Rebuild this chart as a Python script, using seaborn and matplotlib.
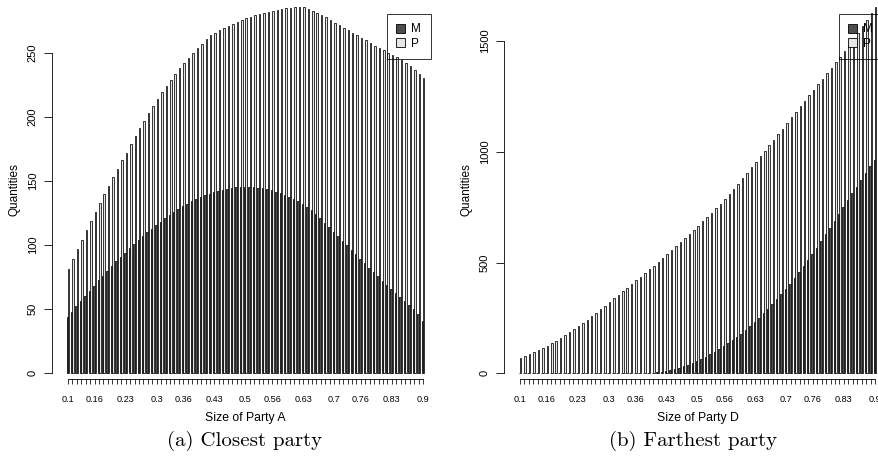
import numpy as np
import pandas as pd
import matplotlib
matplotlib.use("Agg")
import matplotlib.pyplot as plt
import seaborn as sns
from matplotlib.patches import Patch

# ---------------- data ----------------
party_sizes = [f"{v:g}" for v in np.round(np.linspace(0.10, 0.90, 81), 2)]
shown_labels = ["0.1", "0.16", "0.23", "0.3", "0.36", "0.43", "0.5",
                "0.56", "0.63", "0.7", "0.76", "0.83", "0.9"]
series_names = ["M", "P"]

closest_M = [44.2, 48.0, 52.5, 56.4, 60.0, 64.2, 68.0, 72.5, 76.0, 79.8,
             83.7, 87.2, 90.7, 94.1, 97.5, 100.8, 104.0, 107.0, 110.0, 112.8,
             115.5, 118.2, 120.8, 123.3, 125.7, 128.0, 130.1, 132.1, 134.0, 135.7,
             137.3, 138.8, 140.1, 141.3, 142.3, 143.2, 143.9, 144.5, 144.9, 145.2,
             145.3, 145.2, 145.0, 144.6, 144.1, 143.4, 142.6, 141.6, 140.4, 139.0,
             137.5, 135.8, 134.0, 132.0, 129.7, 127.1, 124.2, 121.0, 117.5, 114.0,
             110.5, 107.0, 103.4, 99.8, 96.2, 92.7, 89.2, 85.7, 82.2, 78.8,
             75.5, 72.2, 69.0, 65.8, 62.6, 59.5, 56.4, 53.3, 50.2, 46.5,
             41.0]
closest_P = [81, 89, 97, 104, 111.5, 118.5, 125.5, 133, 139.5, 146,
             153, 159.5, 166, 172, 179, 185, 191, 197, 203, 208.5,
             214, 219, 224, 228.5, 233, 238, 242, 246, 250, 254,
             257, 260.5, 263.5, 265.5, 267.5, 269.3, 271, 272.6, 274.1, 275.5,
             276.8, 278, 279.1, 280.1, 281, 281.9, 282.7, 283.4, 284, 284.6,
             285.1, 285.5, 285.8, 285.6, 284.3, 282.7, 281.2, 279.4, 277.5, 275.5,
             273.4, 271.6, 269.5, 267.7, 265.6, 263.5, 261.4, 259.6, 257.5, 255.5,
             253.6, 251.8, 250, 248.2, 246.4, 244.3, 242.2, 239.6, 236.5, 233.4,
             230]
farthest_M = [0, 0, 0, 0, 0, 0, 0, 0, 0, 0,
              0, 0, 0, 0, 0, 0, 0, 0, 0, 0,
              0, 0, 0, 0, 0, 0, 0.3, 0.6, 1, 1.8,
              3, 4.5, 6.5, 9, 13, 18, 24, 31, 38, 46,
              55, 64, 74, 85, 97, 109, 122, 135, 149, 163,
              178, 195, 213, 232, 251, 271, 291, 312, 334, 357,
              380, 405, 431, 458, 485, 512, 540, 568, 597, 627,
              657, 688, 719, 750, 781, 812, 843, 874, 905, 935,
              962]
farthest_P = [70, 78, 86.5, 95.5, 105, 115, 125.5, 136.5, 148, 160,
              172.5, 185.5, 199, 213, 227.5, 242.5, 258, 273.7, 289.6, 305.6,
              321.8, 338, 354.3, 370.6, 387, 403.5, 420, 436.6, 453.1, 469.8,
              486.7, 503.8, 521.1, 538.6, 556.3, 574.2, 592.3, 610.6, 629.1, 647.8,
              666.7, 685.8, 705.1, 724.6, 744.3, 764.3, 785.8, 808.3, 831.8, 855.8,
              880.3, 905.3, 930, 955, 980, 1005, 1030, 1055, 1080, 1105,
              1130, 1155, 1180, 1205, 1230, 1255, 1280, 1305, 1330, 1355,
              1380, 1405, 1430, 1455, 1480, 1508, 1537, 1566, 1595, 1625,
              1655]

closest_yticks = [0, 50, 100, 150, 200, 250]
farthest_yticks = [0, 500, 1000, 1500]
series_colors = {"M": "#4D4D4D", "P": "#E6E6E6"}


def long_frame(m_vals, p_vals):
    return pd.DataFrame({
        "size": party_sizes * 2,
        "series": ["M"] * len(party_sizes) + ["P"] * len(party_sizes),
        "quantity": list(m_vals) + list(p_vals),
    })


# ---------------- figure ----------------
W, H = 879, 469
fig = plt.figure(figsize=(W / 100, H / 100), dpi=100)
plt.rcParams["font.family"] = ["Liberation Sans", "DejaVu Sans"]

panels = [
    dict(df=long_frame(closest_M, closest_P), xlabel="Size of Party A",
         yticks=closest_yticks, x0=52.2, legend_x=387,
         caption="(a) Closest party", cap_x=245),
    dict(df=long_frame(farthest_M, farthest_P), xlabel="Size of Party D",
         yticks=farthest_yticks, x0=504.2, legend_x=839,
         caption="(b) Farthest party", cap_x=693),
]

n = len(party_sizes)
pitch = 4.4375                 # pixels per group
margin = 3.56                  # groups between axis edge and first/last centre
ax_w = (n - 1 + 2 * margin) * pitch
y_top, y_bot = -8.5, 379.0

for p in panels:
    ax = fig.add_axes([p["x0"] / W, 1 - y_bot / H, ax_w / W, (y_bot - y_top) / H])
    sns.barplot(data=p["df"], x="size", y="quantity", hue="series",
                order=party_sizes, hue_order=series_names, palette=series_colors,
                width=2 / 3, gap=0, saturation=1, errorbar=None,
                edgecolor="black", linewidth=0.55, legend=False, ax=ax)
    ymax = p["df"]["quantity"].max()
    ax.set_ylim(-0.0155 * ymax, 1.0416 * ymax)
    ax.set_xlim(-margin, n - 1 + margin)

    for s in ["top", "right"]:
        ax.spines[s].set_visible(False)
    ax.spines["left"].set_bounds(0, p["yticks"][-1])
    ax.spines["bottom"].set_bounds(0, n - 1)
    for s in ["left", "bottom"]:
        ax.spines[s].set_linewidth(0.6)
        ax.spines[s].set_color("black")

    ax.set_xticks(range(n))
    ax.set_xticklabels([l if l in shown_labels else "" for l in party_sizes], fontsize=6.6)
    ax.tick_params(axis="x", length=3.6, width=0.55, pad=8.0, colors="black")

    ax.set_yticks(p["yticks"])
    ax.set_yticklabels([str(t) for t in p["yticks"]], rotation=90,
                       va="center", ha="right", fontsize=8)
    ax.tick_params(axis="y", length=6, width=0.6, pad=4.5, colors="black")

    ax.set_xlabel(p["xlabel"], fontsize=8.8)
    ax.xaxis.set_label_coords((p["x0"] + ax_w / 2) / W, 1 - 412.0 / H,
                              transform=fig.transFigure)
    ax.set_ylabel("Quantities", fontsize=8.5)
    ax.yaxis.set_label_coords((p["x0"] - 31.4) / W, 1 - 190 / H,
                              transform=fig.transFigure)

    handles = [Patch(facecolor=series_colors[s], edgecolor="black", linewidth=0.6)
               for s in series_names]
    leg = ax.legend(handles, series_names, loc="upper left",
                    bbox_to_anchor=(p["legend_x"] / W, 1 - 14 / H),
                    bbox_transform=fig.transFigure, fontsize=8.5, frameon=True,
                    fancybox=False, borderpad=0.8, handlelength=0.75,
                    handleheight=0.75, handletextpad=0.5, labelspacing=0.2,
                    borderaxespad=0)
    fr = leg.get_frame()
    fr.set_edgecolor("black")
    fr.set_facecolor("none")
    fr.set_linewidth(0.7)

    fig.text(p["cap_x"] / W, 1 - 441 / H, p["caption"], ha="center", va="center",
             fontfamily="cmr10", fontsize=15)

fig.savefig("out.png", dpi=100)
